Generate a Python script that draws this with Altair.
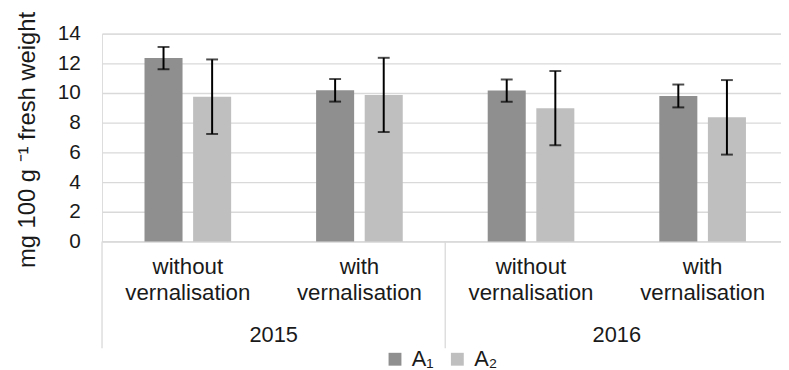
import altair as alt
import pandas as pd

# ---- data ----
categories = ["2015 without", "2015 with", "2016 without", "2016 with"]
years = ["2015", "2015", "2016", "2016"]
series = ["A₁", "A₂"]
a1_mean = [12.35, 10.18, 10.16, 9.80]
a1_err = [0.75, 0.76, 0.75, 0.77]
a2_mean = [9.75, 9.87, 8.98, 8.36]
a2_err = [2.51, 2.50, 2.50, 2.51]
y_ticks = [0, 2, 4, 6, 8, 10, 12, 14]

rows = []
for c, m, e in zip(categories, a1_mean, a1_err):
    rows.append({"cat": c, "series": series[0], "v": m, "lo": m - e, "hi": m + e})
for c, m, e in zip(categories, a2_mean, a2_err):
    rows.append({"cat": c, "series": series[1], "v": m, "lo": m - e, "hi": m + e})
df = pd.DataFrame(rows)

year_names = sorted(set(years))
first_cats = [categories[years.index(y)] for y in year_names]
last_cat = categories[-1]
df_year = pd.DataFrame({"cat": first_cats, "year": year_names})
df_div = pd.DataFrame({"cat": first_cats})
df_div_end = pd.DataFrame({"cat": [last_cat]})

FONT = "Liberation Sans"
TXT = "#1a1a1a"
GRID = "#d9d9d9"
W, H = 686, 210

xscale = alt.Scale(domain=categories, range=[0, 693.5], paddingInner=0, paddingOuter=0)
xoff_scale = alt.Scale(domain=series, paddingInner=0.2175, paddingOuter=0.874)
yscale = alt.Scale(domain=[0, 14])

x_axis = alt.Axis(
    title=None, labelAngle=0, ticks=False, grid=False,
    domainColor=GRID, domainWidth=1.3,
    labelExpr="indexof(datum.label, 'without') >= 0 ? ['without', 'vernalisation'] : ['with', 'vernalisation']",
    labelFontSize=22.5, labelLineHeight=27, labelPadding=14, labelBaseline="top",
    labelColor=TXT, labelFont=FONT,
)
y_axis = alt.Axis(
    values=y_ticks, tickCount=8, grid=True, gridColor=GRID, gridWidth=1.3,
    domain=False, ticks=False, labelPadding=22, labelFontSize=21,
    labelOverlap=False, labelColor=TXT, labelFont=FONT,
    title="mg 100 g ⁻¹ fresh weight", titleFontSize=24, titleFontWeight="normal",
    titleFont=FONT, titleColor=TXT, titleX=-75, titleY=107, titleBaseline="middle",
)


def X(**kw):
    return alt.X("cat:N", scale=xscale, axis=x_axis, sort=categories, **kw)


XO = alt.XOffset("series:N", scale=xoff_scale)

base = alt.Chart(df)

bars = base.mark_bar().encode(
    x=X(),
    xOffset=XO,
    y=alt.Y("v:Q", scale=yscale, axis=y_axis),
    color=alt.Color(
        "series:N",
        scale=alt.Scale(domain=series, range=["#8f8f8f", "#bfbfbf"]),
        legend=alt.Legend(
            orient="none", legendX=285, legendY=318, direction="horizontal",
            title=None, symbolType="square", symbolSize=169, symbolStrokeWidth=0,
            labelFontSize=22, labelFont=FONT, labelColor=TXT,
            padding=0, columnPadding=12, labelOffset=6,
        ),
    ),
)

err = base.mark_rule(color="black", strokeWidth=2).encode(
    x=X(),
    xOffset=XO,
    y=alt.Y("lo:Q", scale=yscale, axis=y_axis),
    y2="hi:Q",
)
cap_hi = base.mark_tick(color="black", thickness=2, size=12, orient="horizontal").encode(
    x=X(),
    xOffset=XO,
    y=alt.Y("hi:Q", scale=yscale, axis=y_axis),
)
cap_lo = base.mark_tick(color="black", thickness=2, size=12, orient="horizontal").encode(
    x=X(),
    xOffset=XO,
    y=alt.Y("lo:Q", scale=yscale, axis=y_axis),
)

year_text = alt.Chart(df_year).mark_text(
    fontSize=22, font=FONT, color=TXT, baseline="middle", align="center"
).encode(
    x=X(bandPosition=1),
    y=alt.value(305),
    text="year:N",
)

dividers = alt.Chart(df_div).mark_rule(color=GRID, strokeWidth=1.3).encode(
    x=X(bandPosition=0),
    y=alt.value(H),
    y2=alt.value(H + 108),
)
divider_end = alt.Chart(df_div_end).mark_rule(color=GRID, strokeWidth=1.3).encode(
    x=X(bandPosition=1),
    y=alt.value(H),
    y2=alt.value(H + 108),
)

chart = alt.layer(bars, err, cap_hi, cap_lo, dividers, divider_end, year_text).properties(
    width=W, height=H,
    autosize=alt.AutoSizeParams(type="none"),
    padding={"left": 95, "top": 24, "right": 0, "bottom": 128},
).configure_view(stroke=None).configure(font=FONT)

chart.save("out.html", embed_options={"renderer": "svg", "actions": False})
